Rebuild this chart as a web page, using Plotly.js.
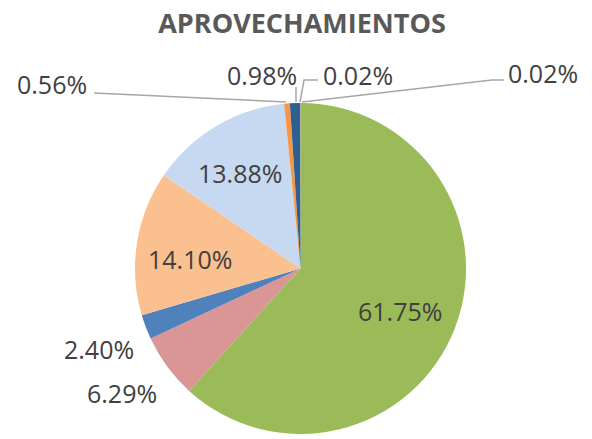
<!DOCTYPE html>
<html>
<head>
<meta charset="utf-8">
<script src="https://cdn.plot.ly/plotly-3.0.1.min.js"></script>
<style>html,body{margin:0;padding:0;background:#fff;}#chart{width:592px;height:439px;}</style>
</head>
<body>
<div id="chart"></div>
<script>
// Data
const categories = ["A", "B", "C", "D", "E", "F", "G", "H", "I"];
const values = [61.75, 6.29, 2.40, 14.10, 13.88, 0.56, 0.98, 0.02, 0.02];
const labelTexts = ["61.75%", "6.29%", "2.40%", "14.10%", "13.88%", "0.56%", "0.98%", "0.02%", "0.02%"];
const colors = ["#9BBB59", "#D99694", "#4F81BD", "#FAC090", "#C6D9F1", "#F79646", "#2F5F91", "#7F7F7F", "#A5A5A5"];

const W = 592, H = 439;
const px = x => x / W;
const py = y => 1 - y / H;

// label placement (pixels)
const labelPos = [[400,311],[122,393],[99,349],[190,259],[240,173],[52,84],[262,75],[358,75],[543,73]];

const annotations = labelTexts.map((t, i) => ({
  text: t, xref: 'paper', yref: 'paper',
  x: px(labelPos[i][0]), y: py(labelPos[i][1]),
  xanchor: 'center', yanchor: 'middle', showarrow: false,
  font: {family: 'Open Sans', size: 25, color: '#404040'}
}));

function pathPx(pts) {
  return pts.map((p, i) => (i ? 'L' : 'M') + px(p[0]) + ',' + py(p[1])).join(' ');
}
const lineStyle = {color: '#A6A6A6', width: 1.5};
const shapes = [
  [[94,93],[286,102]],
  [[296,87],[296,102]],
  [[318,80],[304,80],[300,102]],
  [[302,102],[492,80],[504,80]]
].map(pts => ({type: 'path', xref: 'paper', yref: 'paper', path: pathPx(pts), line: lineStyle}));

const trace = {
  type: 'pie',
  labels: categories,
  values: values,
  sort: false,
  direction: 'clockwise',
  rotation: 0,
  marker: {colors: colors, line: {width: 0}},
  textinfo: 'none',
  hoverinfo: 'none',
  showlegend: false,
  domain: {x: [px(135), px(466)], y: [py(435), py(102)]}
};

const layout = {
  width: W, height: H,
  margin: {l: 0, r: 0, t: 0, b: 0},
  paper_bgcolor: '#ffffff',
  title: {
    text: 'APROVECHAMIENTOS',
    font: {family: 'Open Sans', size: 27, color: '#595959', weight: 'bold'},
    x: px(302), xanchor: 'center', y: py(24), yanchor: 'middle'
  },
  annotations: annotations,
  shapes: shapes
};

Plotly.newPlot('chart', [trace], layout, {displayModeBar: false, staticPlot: true});
</script>
</body>
</html>
